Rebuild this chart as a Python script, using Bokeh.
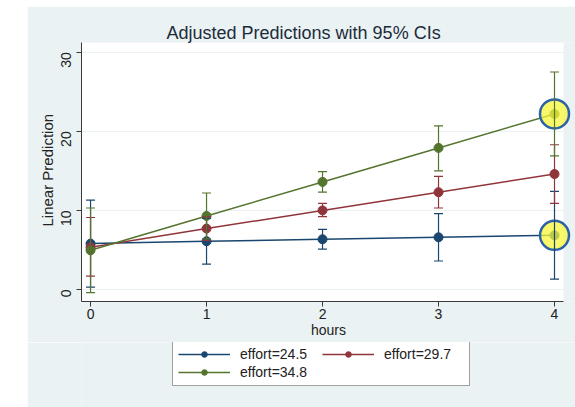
import math
from bokeh.plotting import figure
from bokeh.models import (ColumnDataSource, Whisker, TeeHead, Legend, LegendItem,
                          FixedTicker, Title, Range1d, Spacer, BoxAnnotation)
from bokeh.layouts import row, column
from bokeh.embed import file_html
from bokeh.resources import INLINE

hours = [0, 1, 2, 3, 4]

labels = ["effort=24.5", "effort=29.7", "effort=34.8"]
pred_245 = [5.8, 6.1, 6.35, 6.6, 6.85]
lo_245 = [0.3, 3.2, 5.1, 3.6, 1.3]
hi_245 = [11.3, 9.0, 7.6, 9.6, 12.4]

pred_297 = [5.35, 7.7, 10.0, 12.3, 14.6]
lo_297 = [1.7, 6.2, 9.2, 10.3, 10.9]
hi_297 = [9.1, 9.2, 10.9, 14.3, 18.3]

pred_348 = [4.95, 9.3, 13.6, 17.9, 22.2]
lo_348 = [-0.4, 6.4, 12.3, 15.0, 16.9]
hi_348 = [10.3, 12.2, 14.9, 20.7, 27.5]

highlight_x = [4, 4]
highlight_y = [22.2, 6.85]

x_ticks = [0, 1, 2, 3, 4]
y_ticks = [0, 10, 20, 30]

colors = ["#1a476f", "#90353b", "#55752f"]
FONT = "Liberation Sans"
TEXT = "#1c2b3a"
BG = "#eaf2f3"
X0, X1 = -0.078, 4.078

p = figure(width=548, height=336, output_backend="svg", toolbar_location=None,
           x_range=Range1d(X0, 4.181), y_range=Range1d(-1.52, 31.23),
           min_border_left=54, min_border_right=0, min_border_top=36, min_border_bottom=41)
p.border_fill_color = BG
p.background_fill_color = BG
p.outline_line_color = None

white = BoxAnnotation(left=X0, right=X1, fill_color="white", fill_alpha=1,
                      line_color=None, level="image")
p.add_layout(white)

p.xgrid.grid_line_color = None
p.ygrid.grid_line_color = BG
p.ygrid.ticker = FixedTicker(ticks=y_ticks)
p.ygrid.bounds = (X0, X1)

for ax in (p.xaxis[0], p.yaxis[0]):
    ax.axis_line_color = "#3a3a3a"
    ax.major_tick_line_color = "#3a3a3a"
    ax.minor_tick_line_color = None
    ax.major_tick_out = 5
    ax.major_tick_in = 0
    ax.major_label_text_font = FONT
    ax.major_label_text_font_size = "14px"
    ax.major_label_text_color = "#222222"

p.xaxis.ticker = FixedTicker(ticks=x_ticks)
p.xaxis.bounds = (X0, X1)
p.xaxis.major_label_standoff = 2
p.yaxis.ticker = FixedTicker(ticks=y_ticks)
p.yaxis.major_label_orientation = math.pi / 2
p.yaxis.major_label_standoff = 10
p.xaxis.axis_label = "hours"
p.xaxis.axis_label_text_font = FONT
p.xaxis.axis_label_text_font_style = "normal"
p.xaxis.axis_label_text_font_size = "14px"
p.xaxis.axis_label_text_color = "#222222"
p.xaxis.axis_label_standoff = 0

series = [(pred_245, lo_245, hi_245), (pred_297, lo_297, hi_297), (pred_348, lo_348, hi_348)]
for (pred, lo, hi), c in zip(series, colors):
    src = ColumnDataSource(dict(x=hours, y=pred, lo=lo, hi=hi))
    w = Whisker(source=src, base="x", lower="lo", upper="hi", line_color=c, line_width=1.2,
                level="glyph",
                upper_head=TeeHead(size=9, line_color=c, line_width=1.2),
                lower_head=TeeHead(size=9, line_color=c, line_width=1.2))
    p.add_layout(w)
for (pred, lo, hi), c in zip(series, colors):
    src = ColumnDataSource(dict(x=hours, y=pred))
    p.line("x", "y", source=src, line_color=c, line_width=1.5)
    p.scatter("x", "y", source=src, size=9, fill_color=c, line_color=c)

p.scatter(highlight_x, highlight_y, size=29, fill_color="#f7f53a", fill_alpha=0.75,
          line_color="#2e62a6", line_width=2.5)

p.title.text = "Adjusted Predictions with 95% CIs"
p.title.align = "left"
p.title.offset = 85
p.title.standoff = 0
p.title.text_font = FONT
p.title.text_font_size = "18px"
p.title.text_font_style = "normal"
p.title.text_color = TEXT

ylab = Title(text="Linear Prediction", align="left", offset=75, standoff=-5,
             text_font=FONT, text_font_size="15px", text_font_style="normal",
             text_color="#222222")
p.add_layout(ylab, "left")

# legend panel as its own small figure
lg = figure(width=548, height=65, output_backend="svg", toolbar_location=None,
            x_range=Range1d(0, 1), y_range=Range1d(0, 1),
            x_axis_location=None, y_axis_location=None,
            min_border_left=0, min_border_right=0, min_border_top=0, min_border_bottom=0)
lg.border_fill_color = BG
lg.background_fill_color = BG
lg.outline_line_color = None
lg.xgrid.visible = False
lg.ygrid.visible = False
items = []
for c, lab in zip(colors, labels):
    off = ColumnDataSource(dict(x=[-5], y=[-5]))
    ln = lg.line("x", "y", source=off, line_color=c, line_width=1.5)
    sc = lg.scatter("x", "y", source=off, size=10, fill_color=c, line_color=c)
    items.append(LegendItem(label=lab, renderers=[ln, sc]))

legend = Legend(items=items, ncols=2, orientation="horizontal", location=(91, 21))
legend.label_text_font = FONT
legend.label_text_font_size = "14px"
legend.label_text_color = "#222222"
legend.glyph_width = 52
legend.glyph_height = 14
legend.label_height = 14
legend.label_width = 80
legend.label_standoff = 10
legend.spacing = 2
legend.padding = 5
legend.margin = 0
legend.border_line_color = "#444444"
legend.border_line_width = 1
legend.background_fill_color = "white"
legend.background_fill_alpha = 1
lg.add_layout(legend, "center")

layout = column(Spacer(width=575, height=6),
                row(Spacer(width=27, height=401), column(p, lg)))
open("out.html", "w").write(file_html(layout, INLINE))
